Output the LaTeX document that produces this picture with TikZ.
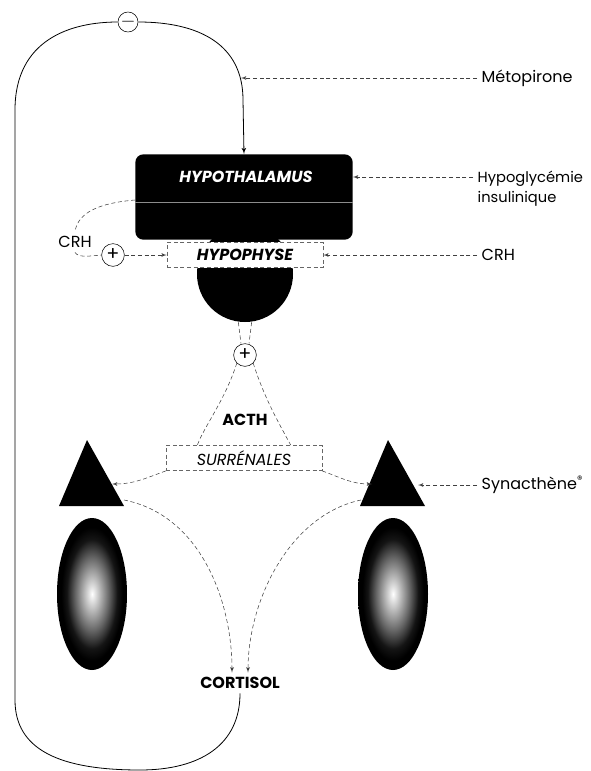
\documentclass[tikz,border=0pt]{standalone}
\usepackage{fontspec}
\setmainfont{Poppins}
\usetikzlibrary{arrows,shapes}
\pgfdeclareradialshading{gland}{\pgfpoint{0bp}{0bp}}{color(0bp)=(white); color(5bp)=(black!25); color(12bp)=(black!60); color(18bp)=(black!92); color(22bp)=(black); color(50bp)=(black)}

\begin{document}
\begin{tikzpicture}[x=0.75pt,y=-0.75pt]
\tikzset{box/.style = {shape=rectangle,draw=black!60,densely dashed,fill=white,minimum width=117pt,minimum height=19pt,font=\fontsize{12}{14}\selectfont\itshape}}
\tikzset{sign/.style = {shape=circle,draw,fill=white,inner sep=0pt,minimum size=17pt,font=\Large}}
\tikzset{lbl/.style = {font=\fontsize{12}{15}\selectfont}}
\tikzset{link/.style = {densely dashed,black!75,thin}}
\tikzset{edge/.style = {->,> = latex',densely dashed,black!75,thin}}
\tikzset{fb/.style = {semithick,black}}
\useasboundingbox (0,0) rectangle (590,771);

\node[circle,fill=black,minimum size=72pt] (hyp) at (245,274) {};
\node[shape=rectangle,rounded corners=6pt,fill=black,minimum width=163pt,minimum height=64pt] (hyt) at (244,197) {};
\draw[black!45] (hyt.west |- 0,202) -- (hyt.east |- 0,202);
\node[white,font=\bfseries\itshape\large] (hyttxt) at (246,177) {HYPOTHALAMUS};
\node[box,font=\fontsize{12}{14}\selectfont\bfseries\itshape] (hypbox) at (245,255) {HYPOPHYSE};
\node[sign] (plus1) at (113,255) {+};
\node[lbl] (crhl) at (75,242) {CRH};
\node[sign] (plus2) at (245,355) {+};
\node[font=\large\bfseries] (acth) at (245,420) {ACTH};
\node[box] (sur) at (244,458) {SURRÉNALES};
\node[font=\large\bfseries] (cort) at (240,683) {CORTISOL};
\node[sign,minimum size=15pt] (minus) at (128,22) {$-$};

\node[lbl,anchor=west] (meto) at (477,78) {Métopirone};
\node[lbl,anchor=north west,align=left,font=\fontsize{11}{15}\selectfont] (hypog) at (473,166) {Hypoglycémie\\insulinique};
\node[lbl,anchor=west] (crhr) at (477,255) {CRH};
\node[lbl,anchor=west] (syn) at (477,485) {Synacthène\textsuperscript{®}};

% surrenales
\fill (87,440) -- (124,506) -- (59,506) -- cycle;
\fill (388,440) -- (425,506) -- (360,506) -- cycle;
\shade[shading=gland] (92,594) ellipse [x radius=35, y radius=76];
\shade[shading=gland] (393,594) ellipse [x radius=35, y radius=76];
\coordinate (ltri) at (112,484);
\coordinate (rtri) at (372,484);
\coordinate (rtri2) at (418,485);
\coordinate (lbase) at (124,500);
\coordinate (rbase) at (361,500);

% feedback loop
\draw[fb] (cort.south) .. controls (240,745) and (200,770) .. (140,770) .. controls (60,770) and (15,750) .. (15,700) -- (15,110) .. controls (15,40) and (70,22) .. (minus.west);
\draw[fb,->,>=latex'] (minus.east) .. controls (200,22) and (243,45) .. (243,100) -- (hyt.north);
\coordinate (metoend) at (241,78);

\draw[edge] (meto) to (metoend);
\draw[edge] (hypog.west |- hyttxt) to (hyt.east |- hyttxt);
\draw[edge] (crhr) to (hypbox);
\draw[edge] (syn) to (rtri2);

\draw[link] (hyt.west |- 0,200) .. controls (100,203) and (78,212) .. (crhl.north);
\draw[link] (crhl.south) .. controls (78,258) and (90,256) .. (plus1.west);
\draw[edge] (plus1) to (hypbox);

\draw[link] ([xshift=-5pt]hyp.south) to ([xshift=-3pt]plus2.north);
\draw[link] ([xshift=5pt]hyp.south) to ([xshift=3pt]plus2.north);
\draw[link] (plus2.south west) .. controls (225,400) and (205,425) .. ([xshift=-35pt]sur.north);
\draw[link] (plus2.south east) .. controls (265,400) and (280,425) .. ([xshift=35pt]sur.north);

\draw[edge] (sur.south west) to[out=200,in=0] (ltri);
\draw[edge] (sur.south east) to[out=-20,in=180] (rtri);
\draw[edge] (lbase) .. controls (200,515) and (232,600) .. ([xshift=-6pt]cort.north);
\draw[edge] (rbase) .. controls (290,515) and (248,600) .. ([xshift=6pt]cort.north);
\end{tikzpicture}
\end{document}
